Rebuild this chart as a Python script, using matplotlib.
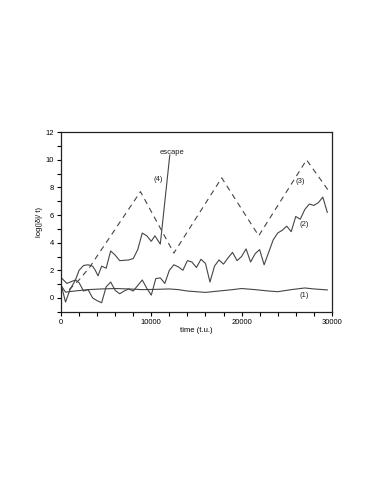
import matplotlib
matplotlib.use("Agg")
import matplotlib.pyplot as plt
from matplotlib.ticker import MultipleLocator

plt.rcParams['font.family'] = ['Liberation Sans', 'DejaVu Sans']

# curve (1): nearly flat
t1 = [0, 500, 1500, 3000, 4500, 6000, 7500, 9000, 10500, 12000, 13000, 14000,
      15000, 16000, 17500, 19000, 20000, 21500, 23000, 24000, 25500, 27000, 28000, 29500]
y1 = [0.9, 0.42, 0.5, 0.6, 0.65, 0.68, 0.65, 0.6, 0.62, 0.65, 0.6, 0.5,
      0.45, 0.4, 0.5, 0.6, 0.68, 0.6, 0.5, 0.45, 0.6, 0.72, 0.65, 0.58]

# curve (2): noisy growth
t2 = [0, 500, 1000, 1600, 2000, 2500, 3000, 3500, 4000, 4500, 5000, 5500,
      6000, 6500, 7000, 7500, 8000, 8500, 9000, 9500, 10000, 10500, 11000, 11500,
      12000, 12500, 13000, 13500, 14000, 14500, 15000, 15500, 16000, 16500, 17000, 17500,
      18000, 18500, 19000, 19500, 20000, 20500, 21000, 21500, 22000, 22500, 23000, 23500,
      24000, 24500, 25000, 25500, 26000, 26500, 27000, 27500, 28000, 28500, 29000, 29500]
y2 = [1.0, -0.3, 0.6, 1.3, 1.1, 0.5, 0.6, 0.0, -0.2, -0.35, 0.8, 1.15,
      0.55, 0.3, 0.5, 0.65, 0.5, 0.9, 1.3, 0.7, 0.2, 1.4, 1.45, 1.05,
      2.0, 2.4, 2.25, 2.0, 2.7, 2.6, 2.2, 2.8, 2.5, 1.15, 2.3, 2.75,
      2.45, 2.9, 3.3, 2.7, 3.0, 3.55, 2.6, 3.2, 3.5, 2.4, 3.3, 4.2,
      4.7, 4.9, 5.2, 4.8, 5.9, 5.7, 6.4, 6.8, 6.7, 6.9, 7.3, 6.2]

# curve (3): dashed sawtooth
t3 = [900, 2000, 3200, 8800, 12500, 17800, 21900, 27200, 29600]
y3 = [0.6, 1.3, 2.25, 7.7, 3.25, 8.7, 4.5, 10.0, 7.8]

# curve (4): grows then escapes
t4 = [0, 650, 1600, 2000, 2500, 3000, 3500, 3800, 4100, 4500, 5000, 5500,
      6000, 6500, 7500, 8000, 8500, 9000, 9500, 10000, 10400, 11000, 12050]
y4 = [1.48, 1.05, 1.3, 2.0, 2.35, 2.4, 2.3, 2.0, 1.6, 2.3, 2.15, 3.4,
      3.1, 2.7, 2.75, 2.85, 3.5, 4.7, 4.5, 4.1, 4.5, 3.9, 10.35]

labels = ["(1)", "(2)", "(3)", "(4)", "escape"]
label_t = [26900, 26900, 26500, 10800, 12300]
label_y = [0.2, 5.35, 8.4, 8.55, 10.5]

fig = plt.figure(figsize=(3.82, 4.94), dpi=100)
ax = fig.add_axes([0.1597, 0.369, 0.709, 0.3632])

c = '#454545'
ax.plot(t1, y1, color=c, lw=0.8)
ax.plot(t2, y2, color=c, lw=0.8)
ax.plot(t3, y3, color=c, lw=0.8, dashes=(5, 4))
ax.plot(t4, y4, color=c, lw=0.8)

for s, x, y in zip(labels, label_t, label_y):
    ax.text(x, y, s, fontsize=5.5, ha='center', va='center', color='#222222')

ax.set_xlim(0, 30000)
ax.set_ylim(-1, 12)
ax.xaxis.set_major_locator(MultipleLocator(10000))
ax.xaxis.set_minor_locator(MultipleLocator(2000))
ax.yaxis.set_major_locator(MultipleLocator(2))
ax.yaxis.set_minor_locator(MultipleLocator(1))
ax.tick_params(which='both', direction='out', length=3, width=0.8,
               labelsize=5.5, pad=2, top=False, right=False)
for sp in ax.spines.values():
    sp.set_linewidth(0.9)
    sp.set_color('#222222')

ax.set_xlabel("time (t.u.)", fontsize=5.5, labelpad=1)
ax.set_ylabel("log(|δ|/ t)", fontsize=5.5, labelpad=2)

fig.savefig("out.png", dpi=100)
